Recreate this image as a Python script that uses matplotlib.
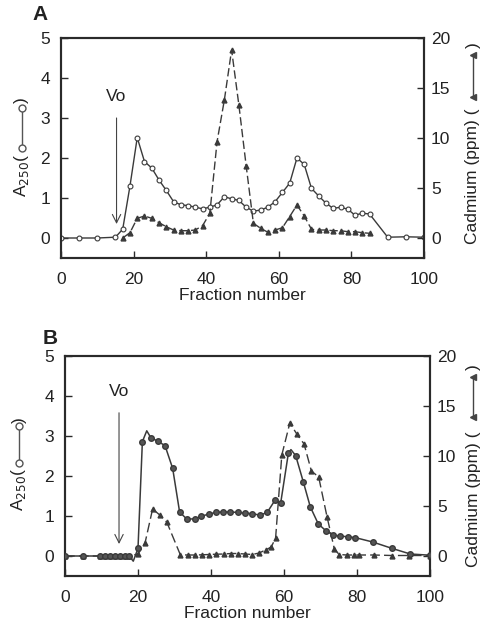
import matplotlib
matplotlib.use("Agg")
import matplotlib.pyplot as plt
from matplotlib.lines import Line2D

plt.rcParams['font.family'] = ['Liberation Sans', 'DejaVu Sans']

# ---------------- Panel A data ----------------
fracA_abs = [0, 5, 10, 15, 17, 19, 21, 23, 25, 27, 29, 31, 33, 35, 37, 39, 41, 43, 45, 47,
             49, 51, 53, 55, 57, 59, 61, 63, 65, 67, 69, 71, 73, 75, 77, 79, 81, 83, 85, 90, 95, 100]
a250_A = [0, 0, 0, 0.02, 0.22, 1.3, 2.51, 1.91, 1.75, 1.45, 1.19, 0.91, 0.83, 0.81, 0.77, 0.73,
          0.77, 0.83, 1.03, 0.98, 0.94, 0.77, 0.67, 0.70, 0.77, 0.91, 1.14, 1.37, 2.0, 1.84,
          1.24, 1.05, 0.87, 0.74, 0.77, 0.72, 0.57, 0.62, 0.60, 0.02, 0.03, 0.02]

fracA_cd = [17, 19, 21, 23, 25, 27, 29, 31, 33, 35, 37, 39, 41, 43, 45, 47, 49, 51, 53, 55,
            57, 59, 61, 63, 65, 67, 69, 71, 73, 75, 77, 79, 81, 83, 85]
cd_A = [0, 0.53, 1.97, 2.2, 1.97, 1.53, 1.13, 0.8, 0.73, 0.73, 0.8, 1.23, 2.47, 9.65, 13.8,
        18.8, 13.3, 7.25, 1.47, 0.97, 0.57, 0.8, 1.03, 2.14, 3.3, 2.2, 0.87, 0.8, 0.8, 0.73,
        0.73, 0.63, 0.63, 0.53, 0.47]

# ---------------- Panel B data ----------------
fracB_abs = [0, 5, 9.5, 11, 12.3, 13.7, 15.1, 16.4, 17.6, 18.7, 20, 21.2, 22.4, 23.5, 25.4,
             27.4, 29.5, 31.4, 33.4, 35.5, 37.3, 39.4, 41.4, 43.3, 45.3, 47.3, 49.3, 51.3,
             53.4, 55.4, 57.5, 59.1, 61.2, 61.9, 63.2, 65.3, 67.2, 69.4, 71.5, 73.5, 75.4,
             77.4, 79.5, 84.3, 89.6, 94.6, 100]
a250_B = [0, 0, 0, 0, 0, 0, 0, 0, 0, -0.13, 0.19, 2.86, 3.13, 2.96, 2.87, 2.76, 2.19, 1.10,
          0.92, 0.93, 0.99, 1.05, 1.09, 1.10, 1.10, 1.09, 1.07, 1.06, 1.02, 1.09, 1.39, 1.33,
          2.57, 2.66, 2.51, 1.85, 1.23, 0.80, 0.63, 0.52, 0.50, 0.48, 0.46, 0.35, 0.19, 0.05,
          0.02]
unmarkedB = [18.7, 22.4, 61.9]

fracB_cd = [0, 5, 9.5, 11, 12.3, 13.7, 15.1, 16.4, 17.6, 20, 21.9, 24.0, 25.9, 27.9, 31.6,
            33.6, 35.5, 37.5, 39.5, 41.5, 43.5, 45.5, 47.3, 49.3, 51.3, 53.2, 55.2, 56.5,
            57.7, 59.4, 61.6, 63.5, 65.5, 67.5, 69.5, 71.8, 73.8, 75.1, 77.2, 79.1, 80.6,
            84.6, 89.6, 94.2, 100]
cd_B = [0, 0, 0, 0, 0, 0, 0, 0, 0, 0.2, 1.26, 4.7, 4.12, 3.38, 0.12, 0.1, 0.1, 0.12, 0.15,
        0.18, 0.2, 0.25, 0.25, 0.2, 0.15, 0.3, 0.65, 0.9, 1.8, 10.1, 13.3, 12.2, 11.2, 8.5,
        7.9, 3.9, 0.7, 0.15, 0.1, 0.1, 0.1, 0.1, 0.05, 0.05, 0.05]

x_ticks = [0, 20, 40, 60, 80, 100]
left_ticks = [0, 1, 2, 3, 4, 5]
right_ticks = [0, 5, 10, 15, 20]

W, H = 487, 628
fig = plt.figure(figsize=(W / 100, H / 100), dpi=100)

LC = '#3a3a3a'
SC = '#2a2a2a'
TC = '#222222'


def fx(px):
    return px / W


def fy(py):
    return 1 - py / H


def setup(ax, ax2):
    ax.set_xlim(0, 100)
    ax.set_ylim(-0.5, 5)
    ax2.set_ylim(-2, 20)
    ax.set_xticks(x_ticks)
    ax.set_yticks(left_ticks)
    ax2.set_yticks(right_ticks)
    for a in (ax, ax2):
        for s in a.spines.values():
            s.set_linewidth(1.5)
            s.set_color(SC)
    ax.tick_params(axis='both', direction='in', length=5, width=1, colors=SC,
                   labelsize=12.5, labelcolor=TC)
    ax.tick_params(axis='x', pad=10)
    ax.tick_params(axis='y', pad=8)
    ax.tick_params(top=False, right=False)
    ax2.tick_params(axis='y', direction='in', length=5, width=1, colors=SC,
                    labelsize=12.5, labelcolor=TC, pad=5)
    ax.set_xlabel('Fraction number', fontsize=12.5, color=TC, labelpad=1)


def vo_arrow(ax, xf, ytop, ybot, ytxt):
    ax.annotate('', xy=(xf, ybot), xytext=(xf, ytop),
                arrowprops=dict(arrowstyle='->,head_length=0.6,head_width=0.3',
                                mutation_scale=10, color='#444444', lw=0.8))
    ax.text(xf, ytxt, 'Vo', ha='center', va='center', fontsize=12.5, color=TC)


def side_labels(xl, yl_text, yl_c1, yl_c2, yl_close, xr, yr_text, yr_t1, yr_t2, yr_close):
    fig.text(fx(xl), fy(yl_text), 'A$_{250}$(', rotation=90, ha='center', va='center',
             fontsize=12.5, color=TC)
    fig.add_artist(Line2D([fx(xl), fx(xl)], [fy(yl_c1), fy(yl_c2)], color='#555555', lw=1,
                          marker='o', markersize=5, markerfacecolor='white',
                          markeredgecolor='#555555', transform=fig.transFigure))
    fig.text(fx(xl), fy(yl_close), ')', rotation=90, ha='center', va='center',
             fontsize=12.5, color=TC)
    fig.text(fx(xr), fy(yr_text), 'Cadmium (ppm) (', rotation=90, ha='center', va='center',
             fontsize=12.5, color=TC)
    fig.add_artist(Line2D([fx(xr), fx(xr)], [fy(yr_t1), fy(yr_t2)], color='#444444', lw=1,
                          marker='<', markersize=5, transform=fig.transFigure))
    fig.text(fx(xr), fy(yr_close), ')', rotation=90, ha='center', va='center',
             fontsize=12.5, color=TC)


# ---------------- Panel A ----------------
axA = fig.add_axes([fx(61), fy(258), fx(424) - fx(61), fy(38) - fy(258)])
axA2 = axA.twinx()
setup(axA, axA2)
axA.plot(fracA_abs, a250_A, color=LC, lw=1, marker='o', markersize=3.5,
         markerfacecolor='white', markeredgecolor=LC, markeredgewidth=0.8, zorder=3)
axA2.plot(fracA_cd, cd_A, color=LC, lw=1, ls=(0, (6, 2.5)), marker='^', markersize=3.5,
          markerfacecolor=LC, markeredgecolor=LC)
vo_arrow(axA, 15.3, 3.07, 0.28, 3.53)
fig.text(fx(40), fy(15), 'A', fontsize=15, fontweight='bold', ha='center', va='center',
         color=TC)
side_labels(21.7, 175, 108, 148, 100, 473, 176.5, 55, 96.7, 45)

# ---------------- Panel B ----------------
axB = fig.add_axes([fx(65), fy(576), fx(430) - fx(65), fy(356) - fy(576)])
axB2 = axB.twinx()
setup(axB, axB2)
markB = [i for i, f in enumerate(fracB_abs) if f not in unmarkedB]
axB2.plot(fracB_cd, cd_B, color=LC, lw=1, ls=(0, (7, 3)), marker='^', markersize=3.5,
          markerfacecolor=LC, markeredgecolor=LC, zorder=2)
# A250 drawn on the twin axes (scaled x4 so it matches the left axis 0-5)
axB2.plot(fracB_abs, [v * 4 for v in a250_B], color=LC, lw=1.1, marker='o', markersize=4,
          markevery=markB, markerfacecolor='#555555', markeredgecolor=LC, zorder=3)
vo_arrow(axB, 14.8, 3.65, 0.23, 4.12)
fig.text(fx(50), fy(338), 'B', fontsize=15, fontweight='bold', ha='center', va='center',
         color=TC)
side_labels(19, 489, 426, 463, 420, 473.3, 499, 376.7, 416.7, 366.7)

fig.savefig('out.png', dpi=100, facecolor='white')
